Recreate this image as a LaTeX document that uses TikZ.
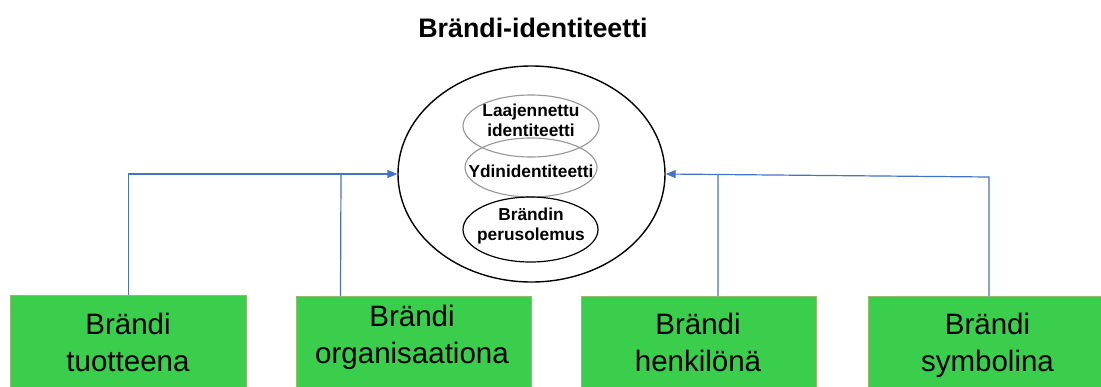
\documentclass[tikz,border=0pt]{standalone}
\usepackage{fontspec}
\setmainfont{Liberation Sans}
\usetikzlibrary{shapes.geometric,arrows.meta,calc}
\definecolor{boxgreen}{RGB}{59,206,77}
\definecolor{boxedge}{RGB}{150,185,110}
\definecolor{linkblue}{RGB}{68,114,196}
\definecolor{ringgray}{RGB}{150,150,150}
\tikzset{
  brandbox/.style={rectangle, fill=boxgreen, draw=boxedge, line width=1bp,
    minimum width=235bp, minimum height=110bp, anchor=north, inner sep=0pt},
  boxtxt/.style={anchor=base, inner sep=0pt,
    font=\fontsize{29.5bp}{37bp}\selectfont},
  ringtxt/.style={anchor=base, inner sep=0pt,
    font=\fontsize{17.3bp}{19.5bp}\selectfont\bfseries},
  ring/.style={ellipse, inner sep=0pt},
  link/.style={draw=linkblue, line width=1.2bp},
  linkarrow/.style={link, -{Triangle[length=10bp,width=8bp]}}
}
\begin{document}
\begin{tikzpicture}[x=1bp,y=-1bp]
\clip (0,0) rectangle (1101,386);
\fill[white] (0,0) rectangle (1101,386);
% title
\node[anchor=base, inner sep=0pt, font=\fontsize{26.8bp}{30bp}\selectfont\bfseries] (title) at (533,37) {Brändi-identiteetti};
% outer ellipse
\node[ring, draw=black, line width=1.4bp, minimum width=267bp, minimum height=216bp] (outer) at (531.5,174) {};
% inner ellipses
\node[ring, draw=ringgray, line width=1.1bp, minimum width=136bp, minimum height=62bp] (ext) at (531,126) {};
\node[ring, draw=ringgray, line width=1.1bp, minimum width=132bp, minimum height=59bp] (core) at (531,167.5) {};
\node[ring, draw=black, line width=1.2bp, minimum width=135bp, minimum height=65bp] (ess) at (530.5,229.5) {};
\node[ringtxt] (extT) at (531,136) {\begin{tabular}[b]{@{}c@{}}Laajennettu\\identiteetti\end{tabular}};
\node[ringtxt] (coreT) at (531,177) {Ydinidentiteetti};
\node[ringtxt] (essT) at (531,240) {\begin{tabular}[b]{@{}c@{}}Brändin\\perusolemus\end{tabular}};
% boxes
\node[brandbox] (b1) at (128.5,295) {};
\node[brandbox] (b2) at (413.5,296) {};
\node[brandbox] (b3) at (698.5,296) {};
\node[brandbox] (b4) at (985.5,296) {};
\node[boxtxt] (t1) at (128,371) {\begin{tabular}[b]{@{}c@{}}Brändi\\tuotteena\end{tabular}};
\node[boxtxt] (t2) at (412,363) {\begin{tabular}[b]{@{}c@{}}Brändi\\organisaationa\end{tabular}};
\node[boxtxt] (t3) at (698,371) {\begin{tabular}[b]{@{}c@{}}Brändi\\henkilönä\end{tabular}};
\node[boxtxt] (t4) at (987.5,371) {\begin{tabular}[b]{@{}c@{}}Brändi\\symbolina\end{tabular}};
% connectors
\coordinate (j2) at (341,174);
\coordinate (j3) at (718,174);
\draw[linkarrow] (b1.north) |- (outer.west);
\draw[link] ($(b2.north west)+(45,0)$) -- (j2);
\draw[linkarrow] ($(b4.north)+(3.5,0)$) -- ++(0,-119) -- (outer.east);
\draw[link] ($(b3.north)+(19.5,0)$) -- (j3);
\end{tikzpicture}
\end{document}
